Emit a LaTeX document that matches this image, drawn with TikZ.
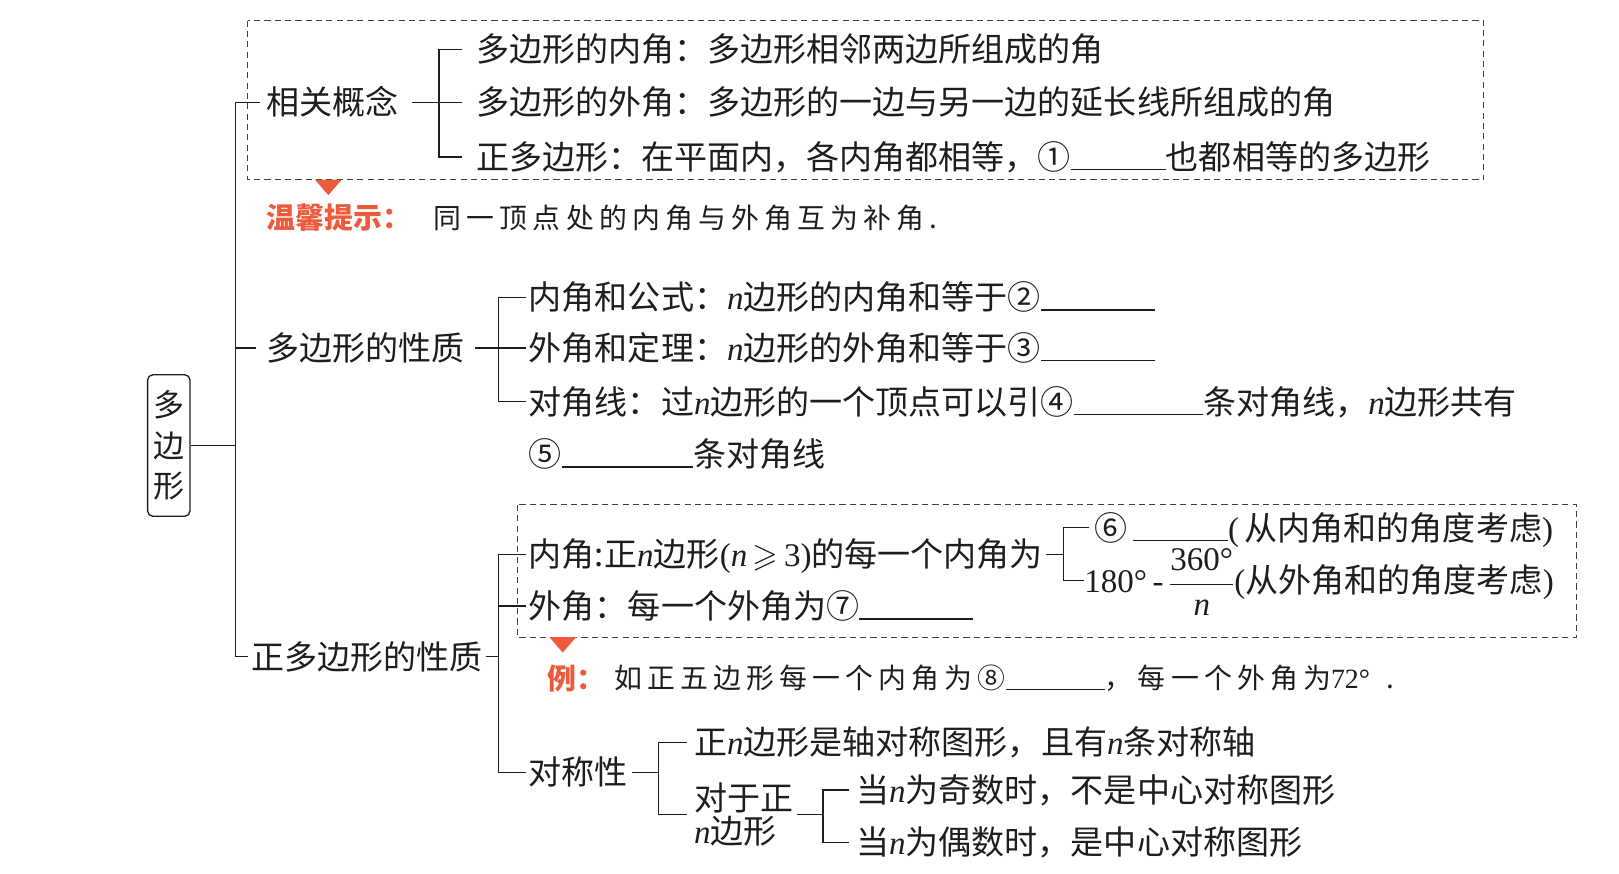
\RequirePackage{fix-cm}
\documentclass[tikz,border=0pt]{standalone}
\usepackage{amsmath,amssymb}
\usepackage[no-math]{fontspec}
\setmainfont{Noto Sans CJK SC}
\newfontfamily\kaifont[LetterSpace=18.5]{Noto Sans CJK SC}
\newfontfamily\tnr{Liberation Serif}
\newcommand{\nn}{{\tnr\itshape n}}
\definecolor{hint}{HTML}{EE5A3C}
\definecolor{ink}{HTML}{1E1E1E}
\newcommand{\blk}[1]{\rule[-1pt]{#1pt}{1.3pt}}
\begin{document}
\begin{tikzpicture}[x=1pt,y=-1pt,
  t/.style={anchor=west, inner sep=0pt, font=\fontsize{32}{38}\selectfont, text=ink, text height=24pt, text depth=0pt},
  kai/.style={t, font=\fontsize{27}{32}\selectfont\kaifont, text height=20.5pt},
  redt/.style={t, font=\fontsize{28}{32}\selectfont\bfseries, text=hint, text height=21.3pt},
  ln/.style={draw=ink, line width=1.3pt},
  dbox/.style={draw=ink!85, line width=1pt, dash pattern=on 6pt off 4pt}]
\useasboundingbox (0,0) rectangle (1568,846);

% root
\node[draw=ink, line width=1.3pt, rounded corners=5pt, minimum width=41pt, minimum height=137pt, inner sep=0pt, align=center, font=\fontsize{30}{39}\selectfont, text=ink] (root) at (163.5,431.5) {多\\边\\形};

% dashed boxes
\draw[dbox] (240,20) rectangle (1437,174);
\draw[dbox] (501,489) rectangle (1527,617);

% branch 1
\node[t] (c0) at (258,99) {相关概念};
\node[t] (c1) at (461,48) {多边形的内角：多边形相邻两边所组成的角};
\node[t] (c2) at (461,99) {多边形的外角：多边形的一边与另一边的延长线所组成的角};
\node[t] (c3) at (461,152) {正多边形：在平面内，各内角都相等，①\blk{92}也都相等的多边形};

\fill[hint] (305,174) -- (331,174) -- (318,189) -- cycle;
\node[redt] (hl) at (258,211) {温馨提示：};
\node[kai] (ht) at (420,211) {同一顶点处的内角与外角互为补角.};

% branch 2
\node[t] (b2) at (258,337) {多边形的性质};
\node[t] (d1) at (512,288) {内角和公式：\nn 边形的内角和等于②\blk{110}};
\node[t] (d2) at (512,337) {外角和定理：\nn 边形的外角和等于③\blk{110}};
\node[t] (d3) at (512,389) {对角线：过\nn 边形的一个顶点可以引④\blk{125}条对角线，\nn 边形共有};
\node[t] (d4) at (512,440) {⑤\blk{127}条对角线};

% branch 3
\node[t] (b3) at (243,636) {正多边形的性质};
\node[t] (e1) at (512,537) {内角:正\nn 边形{\tnr(\textit{n}}$\,\geqslant\,${\tnr 3)}的每一个内角为};
\node[t] (e2) at (512,587) {外角：每一个外角为⑦\blk{110}};
\node[t] (f1) at (1060,511) {⑥\,\blk{92}{\tnr(}\,从内角和的角度考虑{\tnr)}};
\node[t] (f2) at (1050,562) {{\tnr 180°\,-\,}$\dfrac{\text{\tnr 360°}}{\text{\tnr\itshape n}}${\tnr(}从外角和的角度考虑{\tnr)}};

\fill[hint] (532,617) -- (558,617) -- (545,632) -- cycle;
\node[redt] (xl) at (530,657) {例：};
\node[kai] (xt) at (595,657) {如正五边形每一个内角为⑧\blk{96}，每一个外角为{\tnr 72°}\ \,.};

\node[t] (e3) at (512,748) {对称性};
\node[t] (g1) at (672,719) {正\nn 边形是轴对称图形，且有\nn 条对称轴};
\node[anchor=west, inner sep=0pt, align=left, font=\fontsize{32}{32}\selectfont, text=ink] (g2) at (672,789) {对于正\\\nn 边形};
\node[t] (h1) at (829,765) {当\nn 为奇数时，不是中心对称图形};
\node[t] (h2) at (829,816) {当\nn 为偶数时，是中心对称图形};

% connectors
\coordinate (T) at (228,431.5);
\draw[ln] (root.east) -- (T);
\draw[ln] ([xshift=-6pt]c0.west) -| ([xshift=-15pt]b3.west) -- ([xshift=-3pt]b3.west);
\draw[ln] ([xshift=-10pt]b2.west) -- ++(-20,0);

\draw[ln] ([xshift=13pt]c0.east) -- ([xshift=-14pt]c2.west);
\draw[ln] ([xshift=-14pt]c1.west) -- ++(-22,0) |- ([xshift=-14pt]c3.west);

\draw[ln] ([xshift=10pt]b2.east) -- ([xshift=-3pt]d2.west);
\draw[ln] ([xshift=-3pt]d1.west) -- ++(-26,0) |- ([xshift=-3pt]d3.west);

\draw[ln] ([xshift=3pt]b3.east) -- ++(13,0);
\draw[ln] ([xshift=-3pt]e1.west) -- ++(-26,0) |- ([xshift=-3pt]e3.west);
\draw[ln] ([xshift=-3pt]e2.west) -- ++(-26,0);

\coordinate (F) at (1030,537);
\draw[ln] ([xshift=3pt]e1.east) -- (F);
\draw[ln] ([xshift=-5pt]f1.west) -- ++(-25,0) |- (f2.west);

\draw[ln] ([xshift=4pt]e3.east) -- ++(26,0);
\draw[ln] ([xshift=-7pt]g1.west) -- ++(-27,0) |- ([xshift=-7pt]g2.west);
\draw[ln] ([xshift=3pt]g2.east) -- ++(26,0);
\draw[ln] ([xshift=-7pt]h1.west) -- ++(-25,0) |- ([xshift=-7pt]h2.west);
\end{tikzpicture}
\end{document}
